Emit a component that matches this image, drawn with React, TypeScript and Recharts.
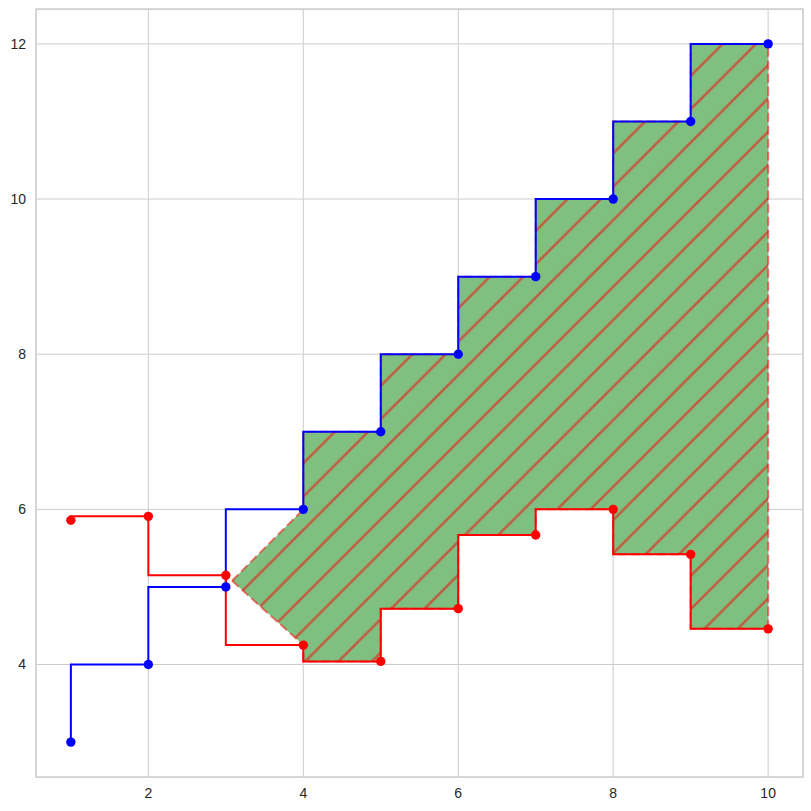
import {
  ComposedChart,
  Line,
  Area,
  XAxis,
  YAxis,
  CartesianGrid,
  ReferenceArea,
  ReferenceLine,
} from "recharts";

// values
const xValues = [1, 2, 3, 4, 5, 6, 7, 8, 9, 10];
const blueValues = [3, 4, 5, 6, 7, 8, 9, 10, 11, 12];
const redValues = [5.86, 5.91, 5.15, 4.25, 4.04, 4.72, 5.67, 6.0, 5.42, 4.46];
const xTicks = [2, 4, 6, 8, 10];
const yTicks = [4, 6, 8, 10, 12];
const xDomain: [number, number] = [0.55, 10.45];
const yDomain: [number, number] = [2.55, 12.45];

const blueData = xValues.map((x, i) => ({ x, y: blueValues[i] }));
const redData = xValues.map((x, i) => ({ x, y: redValues[i] }));

// like fill_between(x, blue, red, where=blue>red, step="pre", interpolate=True)
function buildFill() {
  const where = xValues.map((_, i) => blueValues[i] > redValues[i]);
  const first = where.indexOf(true);
  const last = where.lastIndexOf(true);
  const pts: { x: number; range: [number, number] }[] = [];
  if (first > 0) {
    const d0 = blueValues[first - 1] - redValues[first - 1];
    const d1 = blueValues[first] - redValues[first];
    const t = -d0 / (d1 - d0);
    const xr = xValues[first - 1] + t * (xValues[first] - xValues[first - 1]);
    const yr = blueValues[first - 1] + t * (blueValues[first] - blueValues[first - 1]);
    pts.push({ x: xr, range: [yr, yr] });
  }
  for (let i = first; i <= last; i++) {
    pts.push({ x: xValues[i], range: [redValues[i], blueValues[i]] });
    if (i < last) pts.push({ x: xValues[i], range: [redValues[i + 1], blueValues[i + 1]] });
  }
  return { pts, lastX: xValues[last], lastLo: redValues[last], lastHi: blueValues[last] };
}

const fill = buildFill();

const tickStyle = { fill: "#262626", fontSize: 14, fontFamily: "'Liberation Sans', Arial, sans-serif" };
const HATCH = 33.33;

export default function App() {
  return (
    <div style={{ position: "absolute", left: 0, top: 0 }}>
      <ComposedChart width={811} height={811} margin={{ top: 9, right: 8, left: 0, bottom: 0 }}>
        <defs>
          <pattern id="hatch" patternUnits="userSpaceOnUse" width={HATCH} height={HATCH}>
            <rect width={HATCH} height={HATCH} fill="#7fbf7f" />
            <path
              d={`M0,${HATCH} L${HATCH},0 M-5,5 L5,-5 M${HATCH - 5},${HATCH + 5} L${HATCH + 5},${HATCH - 5}`}
              stroke="#c25a40"
              strokeWidth={2.5}
            />
          </pattern>
        </defs>
        <CartesianGrid stroke="#cccccc" strokeWidth={1} />
        <XAxis
          dataKey="x"
          type="number"
          domain={xDomain}
          ticks={xTicks}
          allowDataOverflow
          height={34}
          axisLine={false}
          tickLine={false}
          tickSize={0}
          tickMargin={11}
          tick={tickStyle}
        />
        <YAxis
          type="number"
          domain={yDomain}
          ticks={yTicks}
          allowDataOverflow
          width={36}
          axisLine={false}
          tickLine={false}
          tickSize={0}
          tickMargin={10}
          tick={tickStyle}
        />
        <ReferenceArea
          x1={xDomain[0]}
          x2={xDomain[1]}
          y1={yDomain[0]}
          y2={yDomain[1]}
          fill="none"
          stroke="#cccccc"
          strokeWidth={1.25}
        />
        <Area
          data={fill.pts}
          dataKey="range"
          type="linear"
          fill="url(#hatch)"
          fillOpacity={1}
          stroke="red"
          strokeOpacity={0.5}
          strokeWidth={2}
          strokeDasharray="9 4"
          dot={false}
          activeDot={false}
          isAnimationActive={false}
        />
        <ReferenceLine
          segment={[
            { x: fill.lastX, y: fill.lastLo },
            { x: fill.lastX, y: fill.lastHi },
          ]}
          stroke="red"
          strokeOpacity={0.5}
          strokeWidth={2}
          strokeDasharray="9 4"
        />
        <Line
          data={blueData}
          dataKey="y"
          type="stepBefore"
          stroke="blue"
          strokeWidth={2}
          dot={{ r: 4.7, fill: "blue", stroke: "none" }}
          activeDot={false}
          isAnimationActive={false}
        />
        <Line
          data={redData}
          dataKey="y"
          type="stepBefore"
          stroke="red"
          strokeWidth={2}
          dot={{ r: 4.7, fill: "red", stroke: "none" }}
          activeDot={false}
          isAnimationActive={false}
        />
      </ComposedChart>
    </div>
  );
}
